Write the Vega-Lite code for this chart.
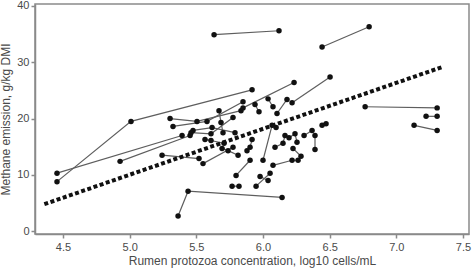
{
  "$schema": "https://vega.github.io/schema/vega-lite/v6.json",
  "width": 434,
  "height": 230,
  "autosize": {"type": "none"},
  "padding": {"left": 35, "top": 4, "right": 3, "bottom": 34},
  "background": "white",
  "config": {
    "view": {"stroke": "#8a8a8a", "strokeWidth": 1.5},
    "font": "Liberation Sans",
    "axis": {
      "grid": false,
      "domainColor": "#8a8a8a",
      "domainWidth": 1.5,
      "tickColor": "#8a8a8a",
      "tickWidth": 1.5,
      "tickSize": 4,
      "labelColor": "#4a4a4a",
      "labelFont": "Liberation Sans",
      "labelFontSize": 11,
      "titleColor": "#4a4a4a",
      "titleFont": "Liberation Sans",
      "titleFontSize": 12,
      "titleFontWeight": "normal"
    }
  },
  "datasets": {
    "obs": [
      {"g": 1, "o": 1, "x": 5.633, "y": 34.9}, {"g": 1, "o": 2, "x": 6.12, "y": 35.6},
      {"g": 2, "o": 1, "x": 6.443, "y": 32.7}, {"g": 2, "o": 2, "x": 6.796, "y": 36.3},
      {"g": 3, "o": 1, "x": 6.766, "y": 22.1}, {"g": 3, "o": 2, "x": 7.306, "y": 21.9},
      {"g": 4, "o": 1, "x": 7.223, "y": 20.4}, {"g": 4, "o": 2, "x": 7.306, "y": 20.4},
      {"g": 5, "o": 1, "x": 7.133, "y": 18.8}, {"g": 5, "o": 2, "x": 7.306, "y": 17.9},
      {"g": 6, "o": 1, "x": 4.455, "y": 8.8}, {"g": 6, "o": 2, "x": 5.01, "y": 19.5}, {"g": 6, "o": 3, "x": 5.918, "y": 25.1},
      {"g": 7, "o": 1, "x": 4.455, "y": 10.3}, {"g": 7, "o": 2, "x": 5.393, "y": 17.0},
      {"g": 8, "o": 1, "x": 4.928, "y": 12.4}, {"g": 8, "o": 2, "x": 5.453, "y": 17.0},
      {"g": 9, "o": 1, "x": 5.303, "y": 20.0}, {"g": 9, "o": 2, "x": 5.505, "y": 19.5}, {"g": 9, "o": 3, "x": 5.835, "y": 21.4},
      {"g": 10, "o": 1, "x": 5.325, "y": 18.6}, {"g": 10, "o": 2, "x": 5.58, "y": 19.5}, {"g": 10, "o": 3, "x": 5.85, "y": 23.0},
      {"g": 11, "o": 1, "x": 5.243, "y": 13.5}, {"g": 11, "o": 2, "x": 5.52, "y": 12.9},
      {"g": 12, "o": 1, "x": 5.55, "y": 12.0}, {"g": 12, "o": 2, "x": 5.775, "y": 14.9},
      {"g": 13, "o": 1, "x": 5.363, "y": 2.7}, {"g": 13, "o": 2, "x": 5.438, "y": 7.1}, {"g": 13, "o": 3, "x": 6.143, "y": 6.0},
      {"g": 14, "o": 1, "x": 5.67, "y": 21.4}, {"g": 14, "o": 2, "x": 5.685, "y": 19.3}, {"g": 14, "o": 3, "x": 5.70, "y": 17.5},
      {"g": 15, "o": 1, "x": 5.475, "y": 17.9}, {"g": 15, "o": 2, "x": 5.618, "y": 18.4}, {"g": 15, "o": 3, "x": 5.79, "y": 17.5},
      {"g": 16, "o": 1, "x": 5.46, "y": 17.5}, {"g": 16, "o": 2, "x": 5.61, "y": 17.3}, {"g": 16, "o": 3, "x": 5.775, "y": 20.2},
      {"g": 17, "o": 1, "x": 5.565, "y": 16.3}, {"g": 17, "o": 2, "x": 5.61, "y": 16.1}, {"g": 17, "o": 3, "x": 5.708, "y": 15.6},
      {"g": 18, "o": 1, "x": 5.693, "y": 14.7}, {"g": 18, "o": 2, "x": 5.738, "y": 14.3}, {"g": 18, "o": 3, "x": 5.813, "y": 13.5},
      {"g": 19, "o": 1, "x": 5.85, "y": 21.9}, {"g": 19, "o": 2, "x": 6.233, "y": 26.4},
      {"g": 20, "o": 1, "x": 5.94, "y": 22.5}, {"g": 20, "o": 2, "x": 5.97, "y": 21.2},
      {"g": 21, "o": 1, "x": 6.038, "y": 23.5}, {"g": 21, "o": 2, "x": 6.075, "y": 22.1},
      {"g": 22, "o": 1, "x": 6.105, "y": 20.9}, {"g": 22, "o": 2, "x": 6.18, "y": 23.4},
      {"g": 23, "o": 1, "x": 6.218, "y": 22.8}, {"g": 23, "o": 2, "x": 6.503, "y": 27.4},
      {"g": 24, "o": 1, "x": 5.88, "y": 14.3}, {"g": 24, "o": 2, "x": 5.903, "y": 14.9}, {"g": 24, "o": 3, "x": 5.918, "y": 16.3},
      {"g": 25, "o": 1, "x": 5.798, "y": 9.9}, {"g": 25, "o": 2, "x": 5.903, "y": 12.6},
      {"g": 26, "o": 1, "x": 5.768, "y": 8.0}, {"g": 26, "o": 2, "x": 5.82, "y": 8.0},
      {"g": 27, "o": 1, "x": 5.948, "y": 8.0}, {"g": 27, "o": 2, "x": 6.053, "y": 10.3},
      {"g": 28, "o": 1, "x": 5.978, "y": 9.7}, {"g": 28, "o": 2, "x": 6.038, "y": 9.0},
      {"g": 29, "o": 1, "x": 6.0, "y": 12.6}, {"g": 29, "o": 2, "x": 6.068, "y": 18.8}, {"g": 29, "o": 3, "x": 6.098, "y": 18.4},
      {"g": 30, "o": 1, "x": 6.075, "y": 11.7}, {"g": 30, "o": 2, "x": 6.218, "y": 12.6}, {"g": 30, "o": 3, "x": 6.263, "y": 12.6},
      {"g": 31, "o": 1, "x": 6.09, "y": 14.9}, {"g": 31, "o": 2, "x": 6.15, "y": 15.6}, {"g": 31, "o": 3, "x": 6.165, "y": 17.0},
      {"g": 32, "o": 1, "x": 6.195, "y": 16.6}, {"g": 32, "o": 2, "x": 6.24, "y": 17.3}, {"g": 32, "o": 3, "x": 6.255, "y": 15.8},
      {"g": 33, "o": 1, "x": 6.308, "y": 17.0}, {"g": 33, "o": 2, "x": 6.368, "y": 17.9},
      {"g": 34, "o": 1, "x": 6.39, "y": 17.0}, {"g": 34, "o": 2, "x": 6.39, "y": 14.5},
      {"g": 35, "o": 1, "x": 6.443, "y": 18.8}, {"g": 35, "o": 2, "x": 6.473, "y": 19.1},
      {"g": 36, "o": 1, "x": 6.225, "y": 14.7}, {"g": 36, "o": 2, "x": 6.285, "y": 13.3}
    ],
    "fit": [
      {"x": 4.36, "y": 4.8},
      {"x": 7.35, "y": 29.2}
    ]
  },
  "layer": [
    {
      "data": {"name": "obs"},
      "mark": {"type": "line", "color": "#5e5e5e", "strokeWidth": 1.2},
      "encoding": {
        "x": {"field": "x", "type": "quantitative", "scale": {"domain": [4.29, 7.545], "nice": false, "zero": false},
              "axis": {"values": [4.5, 5, 5.5, 6, 6.5, 7, 7.5], "format": ".1f", "title": "Rumen protozoa concentration, log10 cells/mL", "labelPadding": 3, "titlePadding": 3}},
        "y": {"field": "y", "type": "quantitative", "scale": {"domain": [-0.5, 40.35], "nice": false, "zero": false},
              "axis": {"values": [0, 10, 20, 30, 40], "title": "Methane emission, g/kg DMI", "labelPadding": 2, "titlePadding": 4}},
        "detail": {"field": "g", "type": "nominal"},
        "order": {"field": "o", "type": "quantitative"}
      }
    },
    {
      "data": {"name": "obs"},
      "mark": {"type": "circle", "color": "#111111", "opacity": 1, "size": 30},
      "encoding": {
        "x": {"field": "x", "type": "quantitative"},
        "y": {"field": "y", "type": "quantitative"}
      }
    },
    {
      "data": {"name": "fit"},
      "mark": {"type": "line", "color": "#111111", "strokeWidth": 4, "strokeDash": [4, 2.5]},
      "encoding": {
        "x": {"field": "x", "type": "quantitative"},
        "y": {"field": "y", "type": "quantitative"}
      }
    }
  ]
}
